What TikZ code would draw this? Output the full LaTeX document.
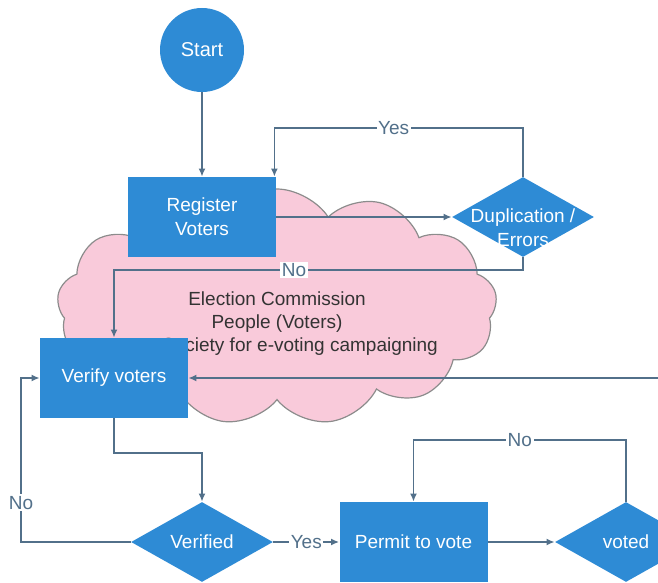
\documentclass[tikz,border=0pt]{standalone}
\usepackage{fontspec}
\setmainfont{Liberation Sans}
\usetikzlibrary{shapes.geometric,shapes.symbols,arrows.meta}
\definecolor{boxblue}{HTML}{2E8BD5}
\definecolor{flowline}{HTML}{52708A}
\definecolor{cloudpink}{HTML}{F9CADA}
\definecolor{cloudedge}{HTML}{8C8C8C}
\definecolor{cloudtext}{HTML}{333333}

\begin{document}
\begin{tikzpicture}[x=0.5pt,y=-0.5pt,
	process/.style={shape=rectangle, fill=boxblue, text=white, align=center,
		minimum width=74pt, minimum height=40pt, font=\fontsize{9.5}{12}\selectfont},
	decision/.style={shape=diamond, fill=boxblue, inner sep=0pt,
		minimum width=71pt, minimum height=40pt},
	dtext/.style={text=white, align=center, font=\fontsize{9.5}{12}\selectfont},
	flow/.style={draw=flowline, line width=0.8pt, -{Latex[length=4pt,width=3.5pt]}},
	lbl/.style={fill=white, text=flowline, inner sep=0.8pt, font=\fontsize{9.5}{11}\selectfont},
	ctext/.style={text=cloudtext, align=center, font=\fontsize{9.5}{11.5}\selectfont}]
	
	\useasboundingbox (0,0) rectangle (658,583);
	\clip (0,0) rectangle (658,583);
	
	% cloud behind the flow
	\node[shape=cloud, cloud puffs=13, cloud puff arc=115, aspect=1.9, draw=cloudedge,
		fill=cloudpink, line width=0.6pt, minimum width=220pt, minimum height=118pt] (cloud) at (277,307) {};
	\node[ctext] (cloudtxt) at (277,312) {Election Commission\\People (Voters)};
	\node[ctext] (cloudtxtc) at (300,347) {Society for e-voting campaigning};
	
	\node[shape=circle, fill=boxblue, text=white, minimum size=42pt, inner sep=0pt,
		font=\fontsize{10}{12}\selectfont] (start) at (202,50) {Start};
	\node[process] (reg) at (202,217) {Register\\Voters};
	\node[decision] (dup) at (523,217) {};
	\node[dtext] (duptxt) at (523,228) {Duplication /\\Errors};
	\node[process] (ver) at (114,378) {Verify voters};
	\node[decision] (vfd) at (202,542) {};
	\node[dtext] (vfdtxt) at (202,542) {Verified};
	\node[process] (permit) at (413.5,542) {Permit to vote};
	\node[decision] (voted) at (626,542) {};
	\node[dtext] (votedtxt) at (626,542) {voted};
	
	\coordinate (yesturn) at (523,128);
	\coordinate (noturn) at (523,270);
	\coordinate (verturn) at (114,453);
	\coordinate (nocorner) at (21,378);
	\coordinate (voteturn) at (626,440);
	\coordinate (rightin) at (658,378);
	
	\draw[flow] (start) -- (reg);
	\draw[flow] (reg.east |- dup.west) -- (dup.west);
	\draw[flow] (dup.north) -- (yesturn) -| node[lbl, pos=0.26]{Yes} ([xshift=-1pt]reg.north east);
	\draw[flow] (dup.south) -- (noturn) -| node[lbl, pos=0.28]{No} (ver.north);
	\draw[flow] (rightin) -- (ver.east);
	\draw[flow] (ver.south) -- (verturn) -| (vfd.north);
	\draw[flow] (vfd.west) -| node[lbl, pos=0.62]{No} (nocorner) -- (ver.west);
	\draw[flow] (vfd.east) -- node[lbl]{Yes} (permit.west);
	\draw[flow] (permit.east) -- (voted.west);
	\draw[flow] (voted.north) -- (voteturn) -| node[lbl, pos=0.25]{No} (permit.north);
	
\end{tikzpicture}
\end{document}
